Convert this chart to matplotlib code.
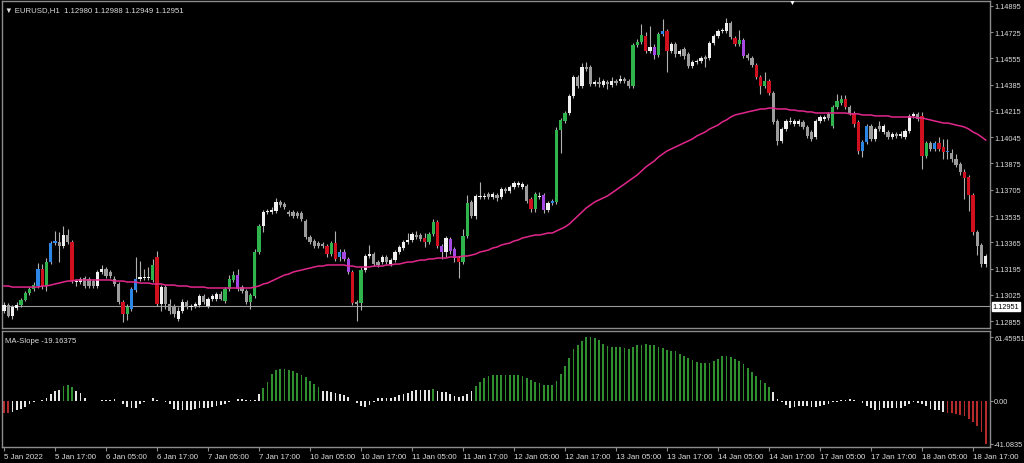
import numpy as np
import matplotlib.pyplot as plt

plt.rcParams['font.family'] = ['Liberation Sans', 'DejaVu Sans']

# EURUSD H1 candles
bar_open = [
    1.12920, 1.12959, 1.12887, 1.12939, 1.12959, 1.12991, 1.13036, 1.13062, 1.13082, 1.13192,
    1.13082, 1.13237, 1.13360, 1.13367, 1.13341, 1.13412, 1.13367, 1.13108, 1.13108, 1.13134,
    1.13127, 1.13114, 1.13082, 1.13172, 1.13192, 1.13172, 1.13127, 1.13095, 1.12978, 1.12900,
    1.12933, 1.13056, 1.13127, 1.13134, 1.13134, 1.13121, 1.13270, 1.12965, 1.13075, 1.12965,
    1.12952, 1.12868, 1.12920, 1.12978, 1.12946, 1.12952, 1.12959, 1.13017, 1.12952, 1.12998,
    1.12998, 1.13030, 1.12985, 1.13062, 1.13121, 1.13153, 1.13075, 1.13049, 1.12978, 1.13017,
    1.13302, 1.13470, 1.13561, 1.13561, 1.13567, 1.13626, 1.13613, 1.13561, 1.13561, 1.13554,
    1.13554, 1.13503, 1.13399, 1.13373, 1.13360, 1.13354, 1.13341, 1.13289, 1.13360, 1.13270,
    1.13302, 1.13257, 1.13172, 1.12978, 1.12972, 1.13185, 1.13276, 1.13289, 1.13237, 1.13237,
    1.13270, 1.13224, 1.13250, 1.13302, 1.13328, 1.13367, 1.13380, 1.13412, 1.13412, 1.13393,
    1.13367, 1.13418, 1.13496, 1.13341, 1.13302, 1.13386, 1.13321, 1.13263, 1.13237, 1.13406,
    1.13626, 1.13535, 1.13658, 1.13658, 1.13678, 1.13658, 1.13671, 1.13658, 1.13710, 1.13697,
    1.13723, 1.13736, 1.13723, 1.13729, 1.13645, 1.13580, 1.13658, 1.13671, 1.13574, 1.13619,
    1.13626, 1.14092, 1.14150, 1.14202, 1.14312, 1.14435, 1.14377, 1.14500, 1.14500, 1.14390,
    1.14403, 1.14383, 1.14403, 1.14383, 1.14409, 1.14409, 1.14422, 1.14409, 1.14377, 1.14642,
    1.14662, 1.14701, 1.14604, 1.14630, 1.14578, 1.14714, 1.14733, 1.14604, 1.14649, 1.14584,
    1.14617, 1.14584, 1.14506, 1.14532, 1.14539, 1.14565, 1.14558, 1.14655, 1.14701, 1.14733,
    1.14733, 1.14785, 1.14688, 1.14649, 1.14675, 1.14578, 1.14558, 1.14513, 1.14435, 1.14377,
    1.14409, 1.14332, 1.14150, 1.14021, 1.14098, 1.14144, 1.14131, 1.14131, 1.14144, 1.14111,
    1.14079, 1.14047, 1.14150, 1.14163, 1.14196, 1.14118, 1.14241, 1.14267, 1.14293, 1.14241,
    1.14202, 1.14144, 1.13956, 1.14014, 1.14118, 1.14034, 1.14118, 1.14079, 1.14079, 1.14047,
    1.14066, 1.14053, 1.14047, 1.14085, 1.14183, 1.14196, 1.14183, 1.13924, 1.14008, 1.13969,
    1.14008, 1.13982, 1.13950, 1.13943, 1.13904, 1.13872, 1.13820, 1.13788, 1.13671, 1.13431,
    1.13347, 1.13224,
]
bar_high = [
    1.12978, 1.12972, 1.12959, 1.12978, 1.13004, 1.13049, 1.13075, 1.13108, 1.13231, 1.13224,
    1.13263, 1.13373, 1.13438, 1.13431, 1.13470, 1.13451, 1.13380, 1.13127, 1.13140, 1.13147,
    1.13140, 1.13127, 1.13185, 1.13218, 1.13205, 1.13185, 1.13147, 1.13108, 1.12991, 1.12965,
    1.13075, 1.13270, 1.13244, 1.13192, 1.13205, 1.13257, 1.13308, 1.13088, 1.13088, 1.12998,
    1.12965, 1.12946, 1.12998, 1.12991, 1.12965, 1.12978, 1.13030, 1.13030, 1.13010, 1.13030,
    1.13043, 1.13049, 1.13075, 1.13153, 1.13179, 1.13192, 1.13088, 1.13062, 1.13036, 1.13321,
    1.13483, 1.13574, 1.13580, 1.13593, 1.13652, 1.13639, 1.13626, 1.13574, 1.13574, 1.13567,
    1.13567, 1.13516, 1.13412, 1.13386, 1.13373, 1.13367, 1.13354, 1.13373, 1.13438, 1.13321,
    1.13321, 1.13270, 1.13185, 1.12991, 1.13205, 1.13289, 1.13347, 1.13302, 1.13250, 1.13282,
    1.13282, 1.13263, 1.13315, 1.13347, 1.13380, 1.13425, 1.13431, 1.13438, 1.13425, 1.13425,
    1.13431, 1.13516, 1.13509, 1.13354, 1.13406, 1.13399, 1.13334, 1.13276, 1.13451, 1.13671,
    1.13639, 1.13678, 1.13755, 1.13684, 1.13691, 1.13691, 1.13684, 1.13723, 1.13723, 1.13736,
    1.13762, 1.13762, 1.13755, 1.13742, 1.13658, 1.13691, 1.13691, 1.13684, 1.13632, 1.13645,
    1.14111, 1.14170, 1.14215, 1.14325, 1.14448, 1.14448, 1.14526, 1.14532, 1.14513, 1.14416,
    1.14435, 1.14422, 1.14416, 1.14435, 1.14422, 1.14448, 1.14435, 1.14422, 1.14655, 1.14681,
    1.14778, 1.14727, 1.14766, 1.14649, 1.14727, 1.14811, 1.14746, 1.14662, 1.14662, 1.14617,
    1.14630, 1.14597, 1.14545, 1.14552, 1.14571, 1.14578, 1.14668, 1.14714, 1.14746, 1.14752,
    1.14817, 1.14798, 1.14701, 1.14740, 1.14688, 1.14591, 1.14571, 1.14526, 1.14448, 1.14468,
    1.14422, 1.14345, 1.14163, 1.14111, 1.14163, 1.14176, 1.14163, 1.14163, 1.14157, 1.14124,
    1.14092, 1.14163, 1.14189, 1.14189, 1.14209, 1.14254, 1.14325, 1.14319, 1.14319, 1.14254,
    1.14215, 1.14157, 1.14027, 1.14131, 1.14131, 1.14111, 1.14150, 1.14131, 1.14092, 1.14079,
    1.14079, 1.14085, 1.14098, 1.14196, 1.14209, 1.14209, 1.14209, 1.14021, 1.14021, 1.14021,
    1.14047, 1.14034, 1.14034, 1.13969, 1.13937, 1.13885, 1.13839, 1.13801, 1.13684, 1.13444,
    1.13360, 1.13289,
]
bar_low = [
    1.12907, 1.12881, 1.12868, 1.12926, 1.12946, 1.12985, 1.13023, 1.13049, 1.13069, 1.13062,
    1.13049, 1.13224, 1.13347, 1.13237, 1.13328, 1.13354, 1.13101, 1.13082, 1.13095, 1.13069,
    1.13069, 1.13069, 1.13069, 1.13159, 1.13134, 1.13134, 1.13082, 1.12965, 1.12849, 1.12862,
    1.12920, 1.13043, 1.13114, 1.13121, 1.13121, 1.13108, 1.12952, 1.12920, 1.12933, 1.12900,
    1.12881, 1.12855, 1.12907, 1.12933, 1.12926, 1.12939, 1.12946, 1.12965, 1.12939, 1.12985,
    1.12985, 1.12991, 1.12972, 1.13049, 1.13108, 1.13049, 1.13036, 1.12965, 1.12933, 1.13004,
    1.13289, 1.13431, 1.13548, 1.13548, 1.13554, 1.13593, 1.13580, 1.13535, 1.13522, 1.13522,
    1.13503, 1.13386, 1.13354, 1.13328, 1.13328, 1.13328, 1.13270, 1.13276, 1.13244, 1.13244,
    1.13244, 1.13159, 1.12959, 1.12855, 1.12926, 1.13172, 1.13263, 1.13211, 1.13205, 1.13224,
    1.13224, 1.13211, 1.13237, 1.13289, 1.13315, 1.13354, 1.13367, 1.13386, 1.13373, 1.13334,
    1.13354, 1.13406, 1.13328, 1.13257, 1.13270, 1.13289, 1.13237, 1.13134, 1.13224, 1.13393,
    1.13522, 1.13516, 1.13645, 1.13645, 1.13645, 1.13645, 1.13632, 1.13645, 1.13684, 1.13684,
    1.13710, 1.13723, 1.13710, 1.13619, 1.13561, 1.13561, 1.13645, 1.13554, 1.13561, 1.13606,
    1.13613, 1.13943, 1.14137, 1.14189, 1.14299, 1.14364, 1.14364, 1.14474, 1.14377, 1.14377,
    1.14370, 1.14370, 1.14358, 1.14370, 1.14383, 1.14396, 1.14396, 1.14364, 1.14364, 1.14630,
    1.14649, 1.14591, 1.14591, 1.14552, 1.14565, 1.14701, 1.14468, 1.14591, 1.14565, 1.14571,
    1.14552, 1.14493, 1.14493, 1.14519, 1.14526, 1.14500, 1.14545, 1.14642, 1.14688, 1.14720,
    1.14720, 1.14681, 1.14636, 1.14636, 1.14558, 1.14545, 1.14500, 1.14422, 1.14325, 1.14364,
    1.14319, 1.14131, 1.13995, 1.14008, 1.14085, 1.14131, 1.14118, 1.14118, 1.14098, 1.14040,
    1.14021, 1.14034, 1.14137, 1.14150, 1.14157, 1.14105, 1.14228, 1.14254, 1.14228, 1.14189,
    1.14111, 1.13937, 1.13917, 1.14001, 1.14021, 1.14021, 1.14085, 1.14066, 1.14034, 1.14034,
    1.14040, 1.14040, 1.14034, 1.14073, 1.14170, 1.14150, 1.13839, 1.13911, 1.13956, 1.13956,
    1.13956, 1.13904, 1.13904, 1.13885, 1.13852, 1.13801, 1.13645, 1.13567, 1.13412, 1.13282,
    1.13205, 1.13205,
]
bar_close = [
    1.12959, 1.12887, 1.12946, 1.12959, 1.12991, 1.13036, 1.13062, 1.13088, 1.13192, 1.13082,
    1.13237, 1.13360, 1.13373, 1.13341, 1.13412, 1.13367, 1.13114, 1.13114, 1.13127, 1.13082,
    1.13082, 1.13082, 1.13172, 1.13192, 1.13147, 1.13147, 1.13095, 1.12978, 1.12900, 1.12946,
    1.13062, 1.13127, 1.13140, 1.13140, 1.13140, 1.13218, 1.12965, 1.13075, 1.12965, 1.12920,
    1.12900, 1.12920, 1.12978, 1.12946, 1.12952, 1.12965, 1.13017, 1.12978, 1.12998, 1.13017,
    1.13030, 1.12998, 1.13062, 1.13127, 1.13153, 1.13062, 1.13049, 1.12978, 1.13023, 1.13302,
    1.13470, 1.13561, 1.13567, 1.13574, 1.13626, 1.13606, 1.13593, 1.13548, 1.13535, 1.13535,
    1.13516, 1.13399, 1.13367, 1.13341, 1.13341, 1.13341, 1.13289, 1.13360, 1.13257, 1.13302,
    1.13257, 1.13172, 1.12972, 1.12965, 1.13185, 1.13276, 1.13289, 1.13224, 1.13218, 1.13270,
    1.13237, 1.13250, 1.13302, 1.13334, 1.13367, 1.13380, 1.13418, 1.13399, 1.13386, 1.13367,
    1.13418, 1.13496, 1.13341, 1.13302, 1.13393, 1.13308, 1.13263, 1.13237, 1.13406, 1.13619,
    1.13535, 1.13665, 1.13665, 1.13665, 1.13658, 1.13678, 1.13652, 1.13710, 1.13697, 1.13723,
    1.13749, 1.13749, 1.13742, 1.13632, 1.13580, 1.13678, 1.13665, 1.13574, 1.13619, 1.13632,
    1.14092, 1.14157, 1.14202, 1.14312, 1.14435, 1.14377, 1.14500, 1.14487, 1.14390, 1.14403,
    1.14390, 1.14409, 1.14390, 1.14409, 1.14396, 1.14422, 1.14409, 1.14377, 1.14642, 1.14662,
    1.14707, 1.14604, 1.14630, 1.14578, 1.14714, 1.14733, 1.14604, 1.14649, 1.14584, 1.14604,
    1.14571, 1.14506, 1.14532, 1.14539, 1.14558, 1.14552, 1.14655, 1.14701, 1.14733, 1.14740,
    1.14785, 1.14694, 1.14649, 1.14675, 1.14571, 1.14558, 1.14513, 1.14435, 1.14377, 1.14409,
    1.14332, 1.14144, 1.14021, 1.14098, 1.14150, 1.14150, 1.14150, 1.14150, 1.14111, 1.14053,
    1.14034, 1.14150, 1.14176, 1.14176, 1.14170, 1.14241, 1.14280, 1.14293, 1.14241, 1.14202,
    1.14131, 1.13956, 1.14014, 1.14118, 1.14034, 1.14098, 1.14098, 1.14118, 1.14047, 1.14066,
    1.14053, 1.14066, 1.14085, 1.14183, 1.14196, 1.14163, 1.13924, 1.14008, 1.13969, 1.14008,
    1.13969, 1.13950, 1.13956, 1.13904, 1.13865, 1.13820, 1.13781, 1.13671, 1.13431, 1.13341,
    1.13224, 1.13276,
]
# indicator state of each candle: g/r strong up/down, b/p weak up/down, w/s neutral up/down
bar_state = ("wswwggggbrgbbswsrwws" "sswwssssrgbbwwwgrwss" "swwswwwswwwsgggpssgg"
             "gwwwwsssssssssssrgrb" "pprsgwwsswswwwwwwssr" "ggrpwpprggswwwswswsw"
             "wwwsrgwpwbgggwwswssw" "swswswssgggrwpgbrwsw" "sswwwswwwwwsrgpssrrg"
             "rsswwwwwssswwwsgggrs" "rrbbswswswswwwwsrgsb" "rrbsssrrrssw")

ma_line = [
    1.13082, 1.13082, 1.13075, 1.13075, 1.13075, 1.13075, 1.13075, 1.13075, 1.13075, 1.13082,
    1.13082, 1.13088, 1.13095, 1.13101, 1.13108, 1.13114, 1.13114, 1.13121, 1.13121, 1.13121,
    1.13121, 1.13121, 1.13121, 1.13121, 1.13121, 1.13121, 1.13114, 1.13114, 1.13114, 1.13108,
    1.13108, 1.13108, 1.13101, 1.13101, 1.13101, 1.13095, 1.13095, 1.13095, 1.13088, 1.13088,
    1.13088, 1.13082, 1.13082, 1.13082, 1.13075, 1.13075, 1.13075, 1.13075, 1.13069, 1.13069,
    1.13069, 1.13069, 1.13069, 1.13069, 1.13069, 1.13069, 1.13069, 1.13069, 1.13069, 1.13075,
    1.13082, 1.13095, 1.13101, 1.13114, 1.13127, 1.13140, 1.13153, 1.13159, 1.13172, 1.13179,
    1.13185, 1.13192, 1.13198, 1.13205, 1.13211, 1.13211, 1.13218, 1.13218, 1.13218, 1.13218,
    1.13218, 1.13211, 1.13211, 1.13205, 1.13205, 1.13205, 1.13205, 1.13211, 1.13211, 1.13211,
    1.13218, 1.13218, 1.13224, 1.13224, 1.13231, 1.13237, 1.13237, 1.13244, 1.13250, 1.13250,
    1.13257, 1.13257, 1.13263, 1.13263, 1.13263, 1.13270, 1.13270, 1.13270, 1.13276, 1.13276,
    1.13282, 1.13289, 1.13302, 1.13308, 1.13315, 1.13328, 1.13334, 1.13347, 1.13354, 1.13360,
    1.13373, 1.13380, 1.13393, 1.13399, 1.13406, 1.13412, 1.13412, 1.13418, 1.13425, 1.13425,
    1.13438, 1.13451, 1.13464, 1.13483, 1.13509, 1.13535, 1.13561, 1.13587, 1.13606, 1.13626,
    1.13639, 1.13652, 1.13665, 1.13684, 1.13703, 1.13723, 1.13742, 1.13762, 1.13781, 1.13801,
    1.13826, 1.13852, 1.13872, 1.13891, 1.13917, 1.13937, 1.13956, 1.13969, 1.13982, 1.13995,
    1.14008, 1.14021, 1.14034, 1.14053, 1.14066, 1.14079, 1.14098, 1.14111, 1.14124, 1.14144,
    1.14157, 1.14176, 1.14189, 1.14196, 1.14202, 1.14209, 1.14215, 1.14221, 1.14228, 1.14228,
    1.14234, 1.14234, 1.14228, 1.14228, 1.14228, 1.14221, 1.14221, 1.14215, 1.14215, 1.14209,
    1.14209, 1.14202, 1.14202, 1.14202, 1.14202, 1.14202, 1.14202, 1.14202, 1.14202, 1.14196,
    1.14196, 1.14196, 1.14189, 1.14189, 1.14189, 1.14183, 1.14183, 1.14183, 1.14183, 1.14176,
    1.14176, 1.14176, 1.14176, 1.14176, 1.14176, 1.14170, 1.14170, 1.14163, 1.14157, 1.14150,
    1.14144, 1.14137, 1.14137, 1.14131, 1.14124, 1.14118, 1.14111, 1.14098, 1.14079, 1.14066,
    1.14047, 1.14027,
]

ma_slope = [
    -12.0, -12.0, -10.7, -8.8, -7.5, -5.5, -3.3, -1.6, -0.3, 1.0,
    2.3, 6.5, 9.8, 10.2, 14.0, 15.3, 13.0, 9.1, 7.2, 2.3,
    -0.2, -0.3, 0.3, 0.6, 1.0, 1.0, 1.6, 0.3, -3.3, -5.5,
    -6.5, -6.5, -3.3, -1.0, 0.3, 2.3, 0.6, -0.3, -1.6, -3.3,
    -7.5, -8.8, -8.8, -9.1, -8.8, -7.5, -6.5, -6.5, -6.5, -5.5,
    -4.9, -4.2, -2.9, -1.0, 0.3, 1.3, 1.6, 1.0, 1.0, 1.0,
    6.5, 12.0, 18.5, 26.0, 29.3, 30.6, 30.9, 29.9, 28.3, 27.0,
    25.0, 22.8, 19.5, 16.3, 13.7, 9.8, 9.1, 8.1, 7.5, 6.5,
    5.5, 3.3, -0.3, -2.3, -4.9, -5.5, -4.2, -1.6, 2.3, 2.9,
    2.9, 2.6, 3.3, 5.5, 6.8, 7.5, 9.4, 10.5, 10.8, 10.8,
    10.6, 11.3, 9.4, 8.8, 8.1, 6.5, 4.2, 3.3, 4.2, 6.5,
    9.8, 14.6, 18.5, 21.8, 23.7, 24.4, 24.4, 24.4, 24.4, 24.4,
    24.6, 24.6, 23.9, 22.3, 20.1, 18.2, 16.9, 15.6, 15.0, 15.0,
    19.1, 25.5, 33.5, 41.5, 50.1, 54.2, 57.4, 61.45951, 61.2, 60.6,
    59.0, 55.2, 52.6, 52.0, 52.0, 51.7, 51.0, 50.1, 52.0, 53.3,
    53.9, 54.5, 54.2, 53.3, 52.0, 51.0, 48.8, 48.2, 47.9, 44.7,
    43.1, 41.2, 39.2, 37.3, 36.0, 36.0, 36.7, 38.3, 40.5, 43.1,
    43.1, 42.4, 40.5, 38.3, 35.1, 31.9, 27.8, 23.9, 20.1, 16.9,
    13.4, 8.6, 2.2, -1.0, -4.1, -7.3, -6.4, -5.4, -5.4, -5.4,
    -6.4, -6.1, -4.8, -3.8, -2.9, -1.6, -1.0, 1.0, 1.0, 1.6,
    1.0, -0.2, -2.2, -5.4, -7.3, -8.6, -8.6, -7.3, -7.3, -7.3,
    -7.3, -7.0, -5.4, -3.2, -1.6, -2.2, -3.2, -4.8, -8.0, -8.6,
    -9.3, -10.5, -11.5, -11.8, -12.8, -13.7, -15.0, -17.5, -20.7, -24.6,
    -30.3, -41.0835,
]
slope_level = 11.0

time_labels = ["5 Jan 2022", "5 Jan 17:00", "6 Jan 05:00", "6 Jan 17:00", "7 Jan 05:00",
               "7 Jan 17:00", "10 Jan 05:00", "10 Jan 17:00", "11 Jan 05:00", "11 Jan 17:00",
               "12 Jan 05:00", "12 Jan 17:00", "13 Jan 05:00", "13 Jan 17:00", "14 Jan 05:00",
               "14 Jan 17:00", "17 Jan 05:00", "17 Jan 17:00", "18 Jan 05:00", "18 Jan 17:00"]
label_every = 12
price_ticks = [1.14895, 1.14725, 1.14555, 1.14385, 1.14215, 1.14045, 1.13875,
               1.13705, 1.13535, 1.13365, 1.13195, 1.13025, 1.12855]
last_price = 1.12951
slope_ticks = [61.45951, 0.0, -41.0835]
slope_tick_text = ["61.45951", "0.00", "-41.0835"]
header = "▼ EURUSD,H1  1.12980 1.12988 1.12949 1.12951"
slope_title = "MA-Slope -19.16375"

# colours
state_colors = {'g': '#2fb34c', 'r': '#d0101e', 'b': '#2b86e6', 'p': '#a447e3',
                'w': '#f0f0f0', 's': '#9c9c9c'}
frame = '#8c8c8c'
txt = '#dcdcdc'
fs = 5.3

o = np.array(bar_open)
h = np.array(bar_high)
l = np.array(bar_low)
c = np.array(bar_close)
idx = np.arange(len(o))

fig = plt.figure(figsize=(10.24, 4.64), dpi=100, facecolor='black')
ax = fig.add_axes([2 / 1024, 1 - 329 / 464, 988 / 1024, 327 / 464])
ax2 = fig.add_axes([2 / 1024, 1 - 448 / 464, 988 / 1024, 116 / 464])

for a in (ax, ax2):
    a.set_facecolor('black')
    for sp in a.spines.values():
        sp.set_color(frame)
        sp.set_linewidth(1.0)
    a.set_xlim(-0.47, 232.0)
    a.yaxis.tick_right()
    a.tick_params(axis='y', colors=frame, labelcolor=txt, labelsize=fs, length=2, pad=1)

# price panel
ax.axhline(last_price, color='#9a9a9a', lw=0.8, zorder=1)
ax.vlines(idx, l, h, colors='#b0b0b0', lw=0.8, zorder=2)
body_lo = np.minimum(o, c)
body_h = np.maximum(np.abs(c - o), 0.00003)
ax.bar(idx, body_h, bottom=body_lo, width=0.72,
       color=[state_colors[s] for s in bar_state], linewidth=0, zorder=3)
ax.plot(idx, ma_line, color='#e2278c', lw=1.1, zorder=4)
ax.set_ylim(1.12810, 1.14927)
ax.set_xticks([])
ax.set_yticks(price_ticks)
ax.set_yticklabels([f'{p:.5f}' for p in price_ticks])
ax.text(1.0025, last_price, f'{last_price:.5f}', transform=ax.get_yaxis_transform(),
        ha='left', va='center', fontsize=fs, color='black',
        bbox=dict(facecolor='white', edgecolor='white', pad=0.6))
ax.text(0.003, 0.985, header, transform=ax.transAxes, ha='left', va='top',
        fontsize=fs + 0.3, color=txt)
fig.text(792 / 1024, 1 - 3 / 464, '▼', ha='center', va='center', fontsize=5,
         color='white')

# slope panel
slope = np.array(ma_slope)
hist_colors = np.where(slope > slope_level, '#2f8f2f',
                       np.where(slope < -slope_level, '#b52a2a', '#e6e6e6'))
ax2.bar(idx, slope, width=0.45, color=hist_colors, linewidth=0)
ax2.set_ylim(-44.45, 67.24)
ax2.set_yticks(slope_ticks)
ax2.set_yticklabels(slope_tick_text)
ax2.set_xticks(idx[::label_every][:len(time_labels)])
ax2.set_xticklabels(time_labels, ha='left')
ax2.tick_params(axis='x', colors=frame, labelcolor=txt, labelsize=5.7, length=3, pad=1.5)
ax2.text(0.003, 0.95, slope_title, transform=ax2.transAxes, ha='left', va='top',
         fontsize=fs + 0.3, color=txt)

fig.savefig('out.png', dpi=100, facecolor='black')
